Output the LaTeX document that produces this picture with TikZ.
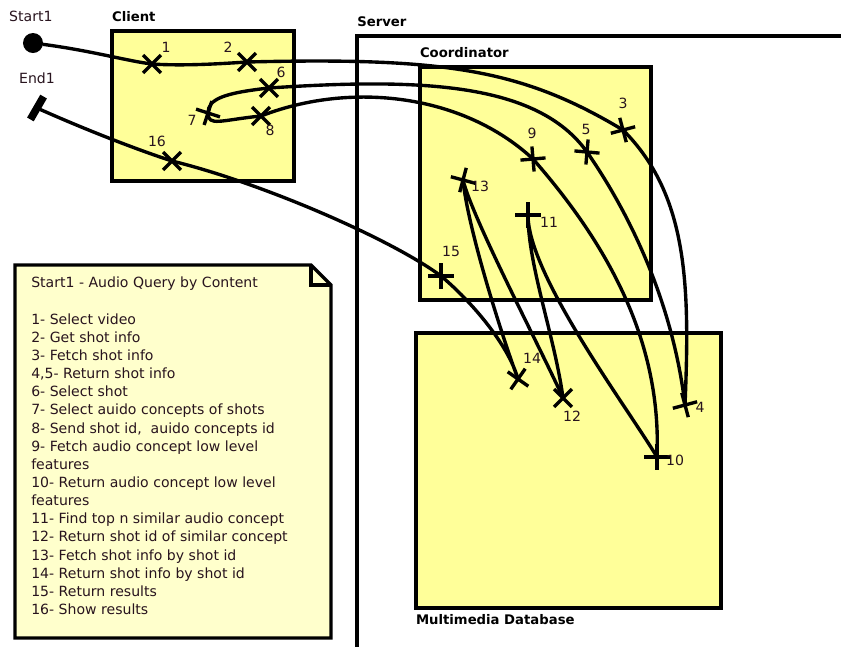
\documentclass[tikz,border=0pt]{standalone}
\usepackage{fontspec}
\setmainfont{DejaVu Sans}
\usepackage{tikz}
\usetikzlibrary{shapes.misc, positioning}
\usepackage{xcolor}
\definecolor{boxyellow}{RGB}{255,255,153}
\definecolor{noteyellow}{RGB}{255,255,204}
\definecolor{inkdark}{RGB}{40,20,30}
\tikzstyle{component} = [rectangle, draw=black, fill=boxyellow, line width=2.3pt, inner sep=0pt]
\tikzstyle{complabel} = [inner sep=0pt, font=\fontsize{9.4}{11}\selectfont\bfseries, text=black]
\tikzstyle{note} = [draw=black, fill=noteyellow, line width=2.3pt, line join=miter]
\tikzstyle{resp} = [cross out, draw=black, line width=2.4pt, minimum size=0.36cm, inner sep=0pt]
\tikzstyle{numlabel} = [inner sep=0pt, text=inkdark]
\tikzstyle{route} = [line width=2.4pt, black, line cap=round, line join=round]

\begin{document}
\begin{tikzpicture}[x=0.025cm, y=-0.025cm, every node/.style={font=\fontsize{10}{12.9}\selectfont}]
    \useasboundingbox (0,0) rectangle (841,646);

    \draw [note] (15,265) -- (311,265) -- (331,285) -- (331,638) -- (15,638) -- cycle;
    \draw [note, fill=none] (311,265) |- (331,285);
    \node (notetext) [anchor=north west, inner sep=0pt, align=left, text=inkdark] at (31,277) {Start1 - Audio Query by Content\\[12.9pt]
        1- Select video\\
        2- Get shot info\\
        3- Fetch shot info\\
        4,5- Return shot info\\
        6- Select shot\\
        7- Select auido concepts of shots\\
        8- Send shot id,~ auido concepts id\\
        9- Fetch audio concept low level\\
        features\\
        10- Return audio concept low level\\
        features\\
        11- Find top n similar audio concept\\
        12- Return shot id of similar concept\\
        13- Fetch shot info by shot id\\
        14- Return shot info by shot id\\
        15- Return results\\
        16- Show results};

    \coordinate (srv) at (357,36);
    \draw [line width=2.3pt] (357,650) -- (srv) -- (845,36);
    \node (srvlbl) [complabel, above right=6.2pt and 0pt of srv] {Server};

    \node (client) [component, minimum width=4.55cm, minimum height=3.75cm] at (203,106) {};
    \node (coord) [component, minimum width=5.775cm, minimum height=5.825cm] at (535.5,183.5) {};
    \node (mmdb) [component, minimum width=7.625cm, minimum height=6.875cm] at (568.5,470.5) {};
    \node (clientlbl) [complabel, above right=5pt and 1pt of client.north west] {Client};
    \node (coordlbl) [complabel, above right=5pt and 1pt of coord.north west] {Coordinator};
    \node (mmdblbl) [complabel, below right=3.5pt and 1pt of mmdb.south west] {Multimedia Database};

    \node (start) [circle, fill=black, minimum size=0.5cm, inner sep=0pt] at (33,43) {};
    \node (endbar) [rectangle, fill=black, minimum width=0.66cm, minimum height=0.19cm, inner sep=0pt, rotate=60] at (37,108) {};
    \node (startlbl) [numlabel, above=7.5pt of start, xshift=-1.5pt] {Start1};
    \node (endlbl) [numlabel, above=16.8pt of endbar.center] {End1};

    \foreach \n/\x/\y/\a in {1/152/64/0, 2/247/62/0, 3/623/130/60, 4/685/405/60, 5/587/152/40, 6/269/88/0, 7/208/113/27, 8/261/116/0, 9/533/159/50, 10/657/457/45, 11/528/215/45, 12/563/398/0, 13/463/180/30, 14/518/379/10, 15/441/276/45, 16/172/161/0} {
        \node (r\n) [resp, rotate=\a] at (\x,\y) {};
    }
    \foreach \n/\x/\y in {1/166/47, 2/228/47, 3/623/103, 4/700/407, 5/586/129, 6/281/72, 7/192/120, 8/270/130, 9/532/133, 10/675/460, 11/549/222, 12/572/416, 13/480/186, 14/532/358, 15/451/251, 16/157/141} {
        \node (n\n) [numlabel] at (\x,\y) {\n};
    }

    \draw [route] (start) .. controls +(60,8) and +(-25,-3) .. (r1.center)
        .. controls +(30,2) and +(-30,2) .. (r2.center)
        .. controls +(200,-5) and +(-100,-60) .. (r3.center)
        .. controls +(65,65) and +(5,-120) .. (r4.center)
        .. controls +(-12,-100) and +(45,65) .. (r5.center)
        .. controls +(-50,-70) and +(150,-10) .. (r6.center)
        .. controls +(-45,5) and +(0,-14) .. (r7.center)
        .. controls +(0,14) and +(-40,4) .. (r8.center)
        .. controls +(90,-35) and +(-70,-65) .. (r9.center)
        .. controls +(70,80) and +(5,-120) .. (r10.center)
        .. controls +(-30,-50) and +(0,60) .. (r11.center)
        .. controls +(0,50) and +(-8,-60) .. (r12.center)
        .. controls +(-20,-45) and +(10,40) .. (r13.center)
        .. controls +(5,50) and +(-15,-40) .. (r14.center)
        .. controls +(-10,-35) and +(30,25) .. (r15.center)
        .. controls +(-50,-37) and +(90,22) .. (r16.center)
        .. controls +(-40,-13) and +(40,18) .. (endbar.center);
\end{tikzpicture}
\end{document}
